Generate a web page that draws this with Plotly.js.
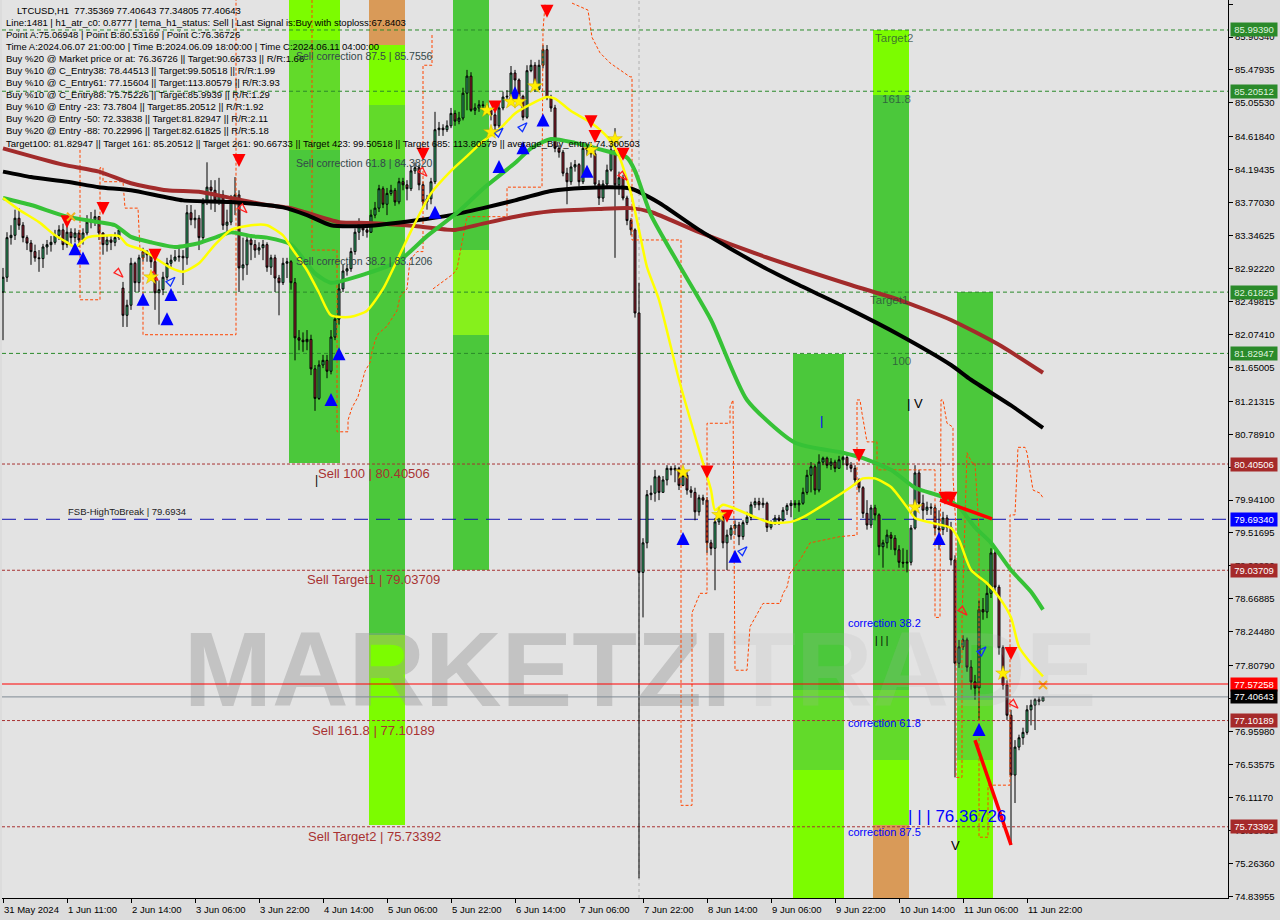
<!DOCTYPE html>
<html><head><meta charset="utf-8">
<script src="https://cdn.plot.ly/plotly-3.0.1.min.js"></script>
<style>html,body{margin:0;padding:0;background:#dcdcdc;}#chart{width:1280px;height:920px;}</style>
</head><body><div id="chart"></div>
<script>
// ---------------- DATA ----------------
const headerOHLC = [77.35369, 77.40643, 77.34805, 77.40643];
const timeLabels = ["31 May 2024","1 Jun 11:00","2 Jun 14:00","3 Jun 06:00","3 Jun 22:00","4 Jun 14:00","5 Jun 06:00","5 Jun 22:00","6 Jun 14:00","7 Jun 06:00","7 Jun 22:00","8 Jun 14:00","9 Jun 06:00","9 Jun 22:00","10 Jun 14:00","11 Jun 06:00","11 Jun 22:00"];
const barsPerLabel = 16;

const open = [82.62,82.81,83.32,83.35,83.57,83.48,83.32,83.25,83.14,83.06,83.05,83.20,83.23,83.26,83.35,83.42,83.23,83.39,83.32,83.38,
83.29,83.38,83.52,83.55,83.59,83.38,83.23,83.29,83.26,83.32,82.67,82.32,82.45,82.99,82.74,83.06,83.14,83.10,83.01,82.61,
82.65,82.81,82.99,83.03,83.07,83.08,83.06,83.64,83.55,83.57,83.32,83.77,83.97,83.93,83.80,83.87,83.48,83.52,83.78,83.87,
82.93,82.97,83.29,83.23,83.16,83.19,83.23,82.94,83.06,82.80,82.74,82.99,83.01,82.74,82.03,82.00,81.98,82.01,81.63,81.25,
81.68,81.74,81.60,82.04,82.27,82.66,82.89,82.92,83.14,83.39,83.51,83.42,83.39,83.61,83.70,83.95,83.75,83.89,83.93,83.78,
84.04,84.00,83.95,84.18,84.22,84.00,83.78,83.82,84.04,84.71,84.73,84.71,84.76,84.92,84.82,84.86,85.18,85.40,84.96,84.99,
85.03,85.02,84.96,84.90,84.76,84.99,85.13,85.14,85.44,85.35,85.14,84.87,85.47,85.54,85.23,85.54,85.74,85.12,84.99,84.47,
84.42,84.15,84.04,84.23,84.26,84.04,84.47,84.45,84.40,84.01,83.83,84.01,84.19,84.45,84.00,84.09,83.83,83.54,83.42,82.35,
79.01,79.39,80.01,80.03,80.24,80.04,80.20,80.35,80.33,80.35,80.13,80.26,80.07,80.04,79.79,79.97,79.94,79.39,79.32,79.66,
79.72,79.39,79.49,79.58,79.62,79.47,79.65,79.72,79.88,79.92,79.88,79.90,79.59,79.65,79.71,79.68,79.81,79.87,79.90,79.88,
79.90,80.04,80.26,80.37,80.07,80.43,80.48,80.39,80.43,80.35,80.46,80.49,80.39,80.35,80.20,80.10,79.77,79.62,79.84,79.75,
79.34,79.39,79.49,79.45,79.30,79.14,79.13,79.14,79.58,80.29,79.90,79.81,79.85,79.84,79.58,79.56,79.71,79.59,79.17,77.84,
78.05,78.14,77.79,77.60,77.52,78.53,78.50,78.74,79.26,78.82,78.04,77.56,77.17,76.40,76.76,76.88,76.95,77.24,77.30,77.37,
77.35369];
const high = [82.93,83.39,83.48,83.68,83.70,83.52,83.35,83.29,83.23,83.16,83.24,83.29,83.34,83.42,83.48,83.50,83.48,83.44,83.44,83.42,
83.44,83.61,83.65,83.68,83.60,83.39,83.35,83.34,83.39,83.44,82.75,82.52,83.06,83.01,83.10,83.19,83.16,83.14,83.06,82.77,
82.88,83.06,83.10,83.16,83.19,83.16,83.74,83.74,83.68,83.61,83.83,84.29,84.06,84.06,84.09,83.93,83.68,83.87,84.10,83.93,
83.32,83.35,83.32,83.29,83.26,83.29,83.26,83.10,83.10,82.84,83.06,83.06,83.03,82.80,82.13,82.10,82.13,82.07,81.68,81.74,
81.81,81.81,82.13,82.32,82.74,82.97,82.97,83.19,83.44,83.57,83.52,83.48,83.68,83.78,84.00,83.98,83.96,84.00,83.96,84.09,
84.09,84.06,84.24,84.29,84.26,84.04,83.87,84.09,84.94,84.81,84.78,84.83,84.99,84.96,84.94,85.25,85.48,85.45,85.05,85.09,
85.08,85.04,84.99,84.94,85.07,85.20,85.22,85.53,85.48,85.37,85.16,85.54,85.61,85.58,85.61,85.80,85.80,85.16,85.03,84.51,
84.45,84.22,84.29,84.32,84.28,84.55,84.53,84.50,84.45,84.06,84.06,84.26,84.58,84.73,84.17,84.13,83.86,83.57,83.44,82.74,
79.45,80.07,80.13,80.33,80.26,80.25,80.39,80.38,80.39,80.37,80.33,80.30,80.12,80.10,80.01,80.01,79.98,79.43,79.71,79.77,
79.74,79.56,79.62,79.68,79.66,79.68,79.79,79.92,79.97,79.97,79.97,79.92,79.68,79.75,79.75,79.85,79.90,79.94,79.94,79.94,
80.10,80.33,80.43,80.40,80.53,80.50,80.50,80.48,80.46,80.51,80.51,80.52,80.43,80.39,80.22,80.12,79.94,79.88,79.88,79.77,
79.43,79.56,79.53,79.49,79.36,79.32,79.30,79.62,80.39,80.33,80.01,79.92,79.90,79.88,79.81,79.79,79.75,79.66,79.23,78.14,
78.20,78.17,77.88,77.69,78.65,78.68,78.85,79.32,79.30,78.85,78.07,77.62,77.24,76.85,76.92,77.01,77.30,77.37,77.39,77.41,
77.40643];
const low = [82.00,82.75,83.23,83.29,83.42,83.26,83.16,82.97,83.01,82.88,82.93,83.10,83.14,83.23,83.29,83.16,83.19,83.21,83.26,83.20,
83.23,83.35,83.44,83.47,83.29,83.10,83.14,83.16,83.21,83.29,82.17,82.17,82.39,82.62,82.62,83.01,83.01,82.93,82.39,82.20,
82.58,82.77,82.93,83.01,83.01,82.71,82.97,83.48,83.44,83.16,83.29,83.74,83.68,83.65,83.74,83.42,83.39,83.48,83.61,82.62,
82.77,82.84,83.03,83.06,83.10,83.03,82.88,82.84,82.62,82.32,82.71,82.80,82.65,81.74,81.87,81.85,81.87,81.55,81.09,81.23,
81.64,81.51,81.56,82.00,82.20,82.62,82.83,82.88,83.10,83.29,83.34,83.32,83.38,83.57,83.65,83.70,83.61,83.86,83.73,83.75,
83.93,83.80,83.92,84.14,83.93,83.70,83.68,83.75,84.01,84.63,84.63,84.68,84.73,84.76,84.78,84.83,84.96,84.94,84.90,84.94,
84.96,84.91,84.83,84.64,84.73,84.96,85.09,85.11,85.16,85.09,84.83,84.85,85.45,85.20,85.22,85.50,85.09,84.94,84.42,84.35,
84.11,83.75,84.00,84.17,83.98,84.01,84.38,84.35,83.96,83.74,83.78,83.98,84.17,83.06,83.87,83.80,83.48,83.35,82.29,75.07,
78.43,79.32,79.94,79.92,79.94,80.04,80.13,80.26,80.17,80.07,80.12,80.01,79.97,79.68,79.74,79.88,79.26,79.23,78.78,79.62,
79.32,79.04,79.43,79.49,79.36,79.43,79.62,79.68,79.84,79.81,79.84,79.53,79.56,79.62,79.62,79.66,79.75,79.72,79.84,79.79,
79.88,80.01,80.04,80.01,80.04,80.39,80.35,80.33,80.30,80.35,80.39,80.33,80.30,80.13,80.04,79.71,79.56,79.58,79.68,79.23,
79.07,79.32,79.30,79.23,79.07,79.07,79.01,79.10,79.56,79.84,79.68,79.75,79.75,79.49,79.30,79.49,79.53,79.10,76.37,77.78,
78.01,77.73,77.50,77.37,77.11,78.40,78.42,78.68,78.76,77.95,77.50,77.11,75.50,76.04,76.72,76.79,76.92,77.04,76.98,77.30,
77.34805];
const close = [82.81,83.32,83.35,83.57,83.48,83.32,83.25,83.14,83.06,83.05,83.20,83.23,83.26,83.35,83.42,83.23,83.39,83.32,83.38,83.29,
83.38,83.52,83.55,83.59,83.38,83.23,83.29,83.26,83.32,83.42,82.32,82.45,82.99,82.74,83.06,83.14,83.10,83.01,82.61,82.65,
82.81,82.99,83.03,83.07,83.08,83.06,83.64,83.55,83.57,83.32,83.77,83.97,83.93,83.80,83.87,83.48,83.52,83.78,83.87,82.93,
82.97,83.29,83.23,83.16,83.19,83.23,82.94,83.06,82.80,82.74,82.99,83.01,82.74,82.03,82.00,81.98,82.01,81.63,81.25,81.68,
81.74,81.60,82.04,82.27,82.66,82.89,82.92,83.14,83.39,83.51,83.42,83.39,83.61,83.70,83.95,83.75,83.89,83.93,83.78,84.04,
84.00,83.95,84.18,84.22,84.00,83.78,83.82,84.04,84.71,84.73,84.71,84.76,84.92,84.82,84.86,85.18,85.40,84.96,84.99,85.03,
85.02,84.96,84.90,84.76,84.99,85.13,85.14,85.44,85.35,85.14,84.87,85.47,85.54,85.23,85.54,85.74,85.12,84.99,84.47,84.42,
84.15,84.04,84.23,84.26,84.04,84.47,84.45,84.40,84.01,83.83,84.01,84.19,84.45,84.00,84.09,83.83,83.54,83.42,82.35,79.01,
79.39,80.01,80.03,80.24,80.04,80.20,80.35,80.33,80.35,80.13,80.26,80.07,80.04,79.79,79.97,79.94,79.39,79.32,79.66,79.72,
79.39,79.49,79.58,79.62,79.47,79.65,79.72,79.88,79.92,79.88,79.90,79.59,79.65,79.71,79.68,79.81,79.87,79.90,79.88,79.90,
80.04,80.26,80.37,80.07,80.43,80.48,80.39,80.43,80.35,80.46,80.49,80.39,80.35,80.20,80.10,79.77,79.62,79.84,79.75,79.34,
79.39,79.49,79.45,79.30,79.14,79.13,79.14,79.58,80.29,79.90,79.81,79.85,79.84,79.58,79.56,79.71,79.59,79.17,77.84,78.05,
78.14,77.79,77.60,77.52,78.53,78.50,78.74,79.26,78.82,78.04,77.56,77.17,76.40,76.76,76.88,76.95,77.24,77.30,77.37,77.35,
77.40643];

// moving averages (bar index, price)
const maBrownIdx = [0,15,24,32,41,49,57,66,72,84,91,103,113,120,128,137,149,157,162,174,189,212,224,237,249,260];
const maBrownVal = [84.47,84.26,84.17,84.02,83.93,83.91,83.83,83.74,83.70,83.52,83.51,83.47,83.42,83.50,83.59,83.66,83.69,83.70,83.65,83.39,83.10,82.71,82.52,82.26,81.94,81.58];
const maBlackIdx = [0,7,16,24,32,45,57,70,76,82,91,103,112,120,128,137,145,157,164,174,189,199,212,224,237,242,252,260];
const maBlackVal = [84.17,84.10,84.04,83.97,83.93,83.80,83.78,83.71,83.61,83.48,83.47,83.54,83.61,83.70,83.80,83.92,83.96,83.95,83.77,83.42,82.97,82.71,82.39,82.07,81.68,81.49,81.16,80.87];
const maGreenIdx = [0,7,16,24,28,32,37,43,49,53,57,62,66,72,78,82,91,99,106,114,120,128,132,137,143,149,156,158,162,169,177,186,198,210,215,222,228,235,239,243,247,252,257,260];
const maGreenVal = [83.83,83.74,83.59,83.52,83.48,83.33,83.26,83.20,83.25,83.32,83.39,83.34,83.32,83.23,82.86,82.74,82.86,83.02,83.34,83.66,83.95,84.28,84.47,84.59,84.54,84.46,84.35,84.18,83.61,82.97,82.26,81.23,80.68,80.55,80.48,80.33,80.10,79.98,79.85,79.59,79.39,79.04,78.76,78.53];
const temaIdx = [0,4,9,13,16,18,21,23,29,31,35,38,42,45,49,53,57,62,66,70,72,76,79,82,87,91,95,99,103,107,112,116,120,124,128,132,136,138,142,147,151,154,157,159,161,164,169,174,177,178,180,184,188,192,197,200,207,212,215,218,222,226,228,232,237,239,242,246,249,252,254,257,260];
const temaVal = [83.83,83.68,83.52,83.35,83.26,83.20,83.32,83.34,83.34,83.23,83.16,83.06,82.93,82.88,82.99,83.23,83.42,83.48,83.48,83.35,83.20,82.90,82.61,82.32,82.30,82.38,82.66,83.08,83.51,83.89,84.18,84.37,84.56,84.71,84.92,85.04,85.13,85.11,84.95,84.80,84.62,84.37,83.89,83.42,82.94,82.52,81.49,80.59,80.07,79.81,79.88,79.81,79.72,79.65,79.66,79.72,79.94,80.11,80.22,80.22,80.11,79.85,79.71,79.65,79.58,79.43,79.04,78.87,78.69,78.43,78.05,77.84,77.67];

// stepped channel (dashed orange), null = break
const chanIdx = [19.25,19.25,24.25,24.25,25,25,30,30.5,33.75,34.25,35,35,58.25,58.25,null,
77.25,77.25,83.5,83.5,86.25,86.25,87.25,88.75,90.5,91.75,92.25,93,93.75,96,98.5,99.25,101,101.75,103.5,105,105,107.25,107.25,null,
107.5,112.5,113.5,115,116,126,126,134.75,135,135.5,null,
142.25,146.25,147.25,149.25,151.75,156.75,157.25,157.25,169.5,169.5,172.25,172.25,174.25,176,176,181.75,181.75,182.5,183,186,186.75,190,194.25,195,196,196.75,199.25,201.75,209.25,213.5,213.5,214.25,214.75,216,218.5,218.5,233,233,234.25,234.5,235,236,237.5,237.5,238.25,238.25,239.75,239.75,241,242.25,243,244,244,246.25,246.25,251.75,251.75,253,253.75,255.5,256,257.5,259.25,260];
const chanVal = [84.45,82.52,82.52,84.22,84.22,84.04,84.04,83.70,83.70,83.16,83.16,82.07,82.07,86.38,null,
86.38,83.16,83.16,80.82,80.82,80.97,81.13,81.27,81.60,81.71,81.85,81.99,82.08,82.18,82.38,82.56,82.66,83.03,83.14,83.14,85.54,85.54,85.93,null,
82.66,82.85,82.92,83.33,83.59,83.59,83.97,83.97,85.99,86.32,null,
86.34,86.25,85.90,85.70,85.57,85.39,85.39,83.29,83.29,76.01,76.01,78.49,78.74,78.74,80.93,80.93,81.14,81.23,77.75,77.75,78.31,78.61,78.61,78.74,78.82,79.00,79.17,79.39,79.47,79.49,81.23,81.23,81.06,80.69,80.69,80.33,80.33,78.43,78.43,81.23,81.23,80.93,80.88,80.24,79.59,76.37,76.37,78.40,80.55,80.42,80.42,79.56,75.60,75.60,76.27,76.27,79.75,79.75,80.62,80.62,80.55,80.07,80.03,79.97];

// signals
const sellIdx = [16,25,38,59,105,123,136,147,148,155,176,181,214,235.5,237,252];
const sellVal = [83.44,83.61,83.01,84.23,84.31,84.92,86.15,84.73,84.54,84.31,80.22,79.65,80.43,79.88,79.88,77.88];
const buyIdx = [18,20,35,41,42,82,84,108,124,128,130,135,146,170,183,234,244];
const buyVal = [83.26,83.14,82.61,82.36,82.67,81.32,81.91,83.73,84.32,85.27,84.56,84.92,84.26,79.53,79.30,79.53,77.07];
const starIdx = [37,121,122,127,129,133,147,153,170,179,228,250];
const starVal = [82.81,84.96,84.68,85.07,85.07,85.27,84.45,84.59,80.30,79.75,79.85,77.71];
const crossIdx = [17,260];
const crossVal = [83.59,77.56];
const sellHintIdx = [30,38.75,61,106,156,241,253.75];
const sellHintVal = [82.81,82.77,83.64,84.11,84.06,78.46,77.26];
const buyHintIdx = [43,125,131,186,245.75];
const buyHintVal = [82.81,84.73,84.80,79.34,78.05];
const zig1Idx = [234.25,247.25], zig1Val = [79.94,79.70];
const zig2Idx = [243,252], zig2Val = [76.85,75.50];

// levels
const targetLevels = [85.99390,85.20512,82.61825,81.82947];
const sellLevels = [80.40506,79.03709,77.10189,75.73392];
const fsbLevel = 79.69340;
const askLevel = 77.57258;
const bidLevel = 77.40643;
const corrLevels = [85.7556,84.3820,83.1206];
const corrNames = ["87.5","61.8","38.2"];
const buyEntries = [78.44513,77.15604,75.75226];
const buyEntryNames = ["correction 38.2","correction 61.8","correction 87.5"];

// zones (bar index ranges)
const zoneStart = [72,92,113,198,218,239];
const zoneEnd = [83.75,100,121,209.75,226,247];

const yTicks = [86.32745,85.90340,85.47935,85.05530,84.61840,84.19435,83.77030,83.34625,82.92220,82.49815,82.07410,81.65005,81.21315,80.78910,80.36505,79.94100,79.51695,79.09290,78.66885,78.24480,77.80790,77.38385,76.95980,76.53575,76.11170,75.68765,75.26360,74.83955];

const infoLines = [
 "LTCUSD,H1  " + headerOHLC.map(v=>v.toFixed(5)).join(" "),
 "Line:1481 | h1_atr_c0: 0.8777 | tema_h1_status: Sell | Last Signal is:Buy with stoploss:67.8403",
 "Point A:75.06948 | Point B:80.53169 | Point C:76.36726",
 "Time A:2024.06.07 21:00:00 | Time B:2024.06.09 18:00:00 | Time C:2024.06.11 04:00:00",
 "Buy %20 @ Market price or at: 76.36726 || Target:90.66733 || R/R:1.66",
 "Buy %10 @ C_Entry38: 78.44513 || Target:99.50518 || R/R:1.99",
 "Buy %10 @ C_Entry61: 77.15604 || Target:113.80579 || R/R:3.93",
 "Buy %10 @ C_Entry88: 75.75226 || Target:85.9939 || R/R:1.29",
 "Buy %10 @ Entry -23: 73.7804 || Target:85.20512 || R/R:1.92",
 "Buy %20 @ Entry -50: 72.33838 || Target:81.82947 || R/R:2.11",
 "Buy %20 @ Entry -88: 70.22996 || Target:82.61825 || R/R:5.18",
 "Target100: 81.82947 || Target 161: 85.20512 || Target 261: 90.66733 || Target 423: 99.50518 || Target 685: 113.80579 || average_Buy_entry: 74.300503"
];

// ---------------- STYLE / LAYOUT ----------------
const FONT = "Liberation Sans, Arial, sans-serif";
const W = 1226, H = 898, L = 2;
const px = x => (x - L) / W;
const py = y => 1 - y / H;
const idx = close.map((_, i) => i);
const Y0 = 74.817, Y1 = 86.380;

const GREEN = '#4bc83b', LIME = '#7cfc00', MID = '#62da2a', ORANGE = '#d99a58';
const zoneBands = [
 [[0,40,LIME],[40,150,MID],[150,463,GREEN]],
 [[0,45,ORANGE],[45,105,LIME],[105,160,MID],[160,635,GREEN],[635,825,LIME]],
 [[0,250,GREEN],[250,335,'#86f01c'],[335,570,GREEN]],
 [[354,690,GREEN],[690,770,MID],[770,898,LIME]],
 [[30,95,LIME],[95,690,GREEN],[690,760,MID],[760,825,LIME],[825,898,ORANGE]],
 [[292,700,GREEN],[700,760,MID],[760,898,LIME]]
];

const shapes = [];
zoneBands.forEach((bands, z) => {
  bands.forEach(b => shapes.push({type:'rect', layer:'below', xref:'x', yref:'paper',
    x0: zoneStart[z] - 0.5, x1: zoneEnd[z] + 0.5, y0: py(b[1]), y1: py(b[0]),
    fillcolor: b[2], line:{width:0}}));
});
targetLevels.forEach(v => shapes.push({type:'line', layer:'below', xref:'paper', yref:'y', x0:0, x1:1, y0:v, y1:v, line:{color:'#2a8a2a', width:1, dash:'4px,3px'}}));
sellLevels.forEach(v => shapes.push({type:'line', layer:'below', xref:'paper', yref:'y', x0:0, x1:1, y0:v, y1:v, line:{color:'#a83232', width:1, dash:'3px,2px'}}));
shapes.push({type:'line', layer:'below', xref:'paper', yref:'y', x0:0, x1:1, y0:fsbLevel, y1:fsbLevel, line:{color:'#1010b0', width:1, dash:'14px,8px'}});
shapes.push({type:'line', layer:'above', xref:'paper', yref:'y', x0:0, x1:1, y0:askLevel, y1:askLevel, line:{color:'#ff0000', width:1}});
shapes.push({type:'line', layer:'above', xref:'paper', yref:'y', x0:0, x1:1, y0:bidLevel, y1:bidLevel, line:{color:'#7f8a94', width:1}});
shapes.push({type:'line', layer:'below', xref:'x', yref:'paper', x0:159, x1:159, y0:0, y1:1, line:{color:'#b0b0b0', width:1, dash:'3px,3px'}});

const ann = [];
const txt = (x, y, text, o) => ann.push(Object.assign({xref:'paper', yref:'paper', x:px(x), y:py(y), text:text, showarrow:false, xanchor:'left', yanchor:'middle', font:{family:FONT, size:9.5, color:'#000'}}, o || {}));

infoLines.forEach((t, k) => txt(k === 0 ? 15 : 4, 10 + 12.1 * k, t));

// x-axis labels (left aligned at tick)
timeLabels.forEach((t, k) => ann.push({xref:'x', yref:'paper', x:k * barsPerLabel, y:py(909), text:t, showarrow:false, xanchor:'left', yanchor:'middle', xshift:-1, font:{family:FONT, size:9.5, color:'#000'}}));

// level texts
const sellTexts = ["Sell 100 | ", "Sell Target1 | ", "Sell 161.8 | ", "Sell Target2 | "];
const sellTextX = [318, 307, 312, 308];
sellLevels.forEach((v, k) => ann.push({xref:'paper', yref:'y', x:px(sellTextX[k]), y:v, text:sellTexts[k] + v.toFixed(5), showarrow:false, xanchor:'left', yanchor:'top', xshift:-2, font:{family:FONT, size:13, color:'#a83232'}}));
corrLevels.forEach((v, k) => ann.push({xref:'paper', yref:'y', x:px(296), y:v, text:'Sell correction ' + corrNames[k] + ' | ' + v.toFixed(4), showarrow:false, xanchor:'left', yanchor:'top', xshift:-2, font:{family:FONT, size:10.5, color:'#34484a'}}));
buyEntries.forEach((v, k) => ann.push({xref:'paper', yref:'y', x:px(848), y:v, text:buyEntryNames[k], showarrow:false, xanchor:'left', yanchor:'top', xshift:-2, yshift:1, font:{family:FONT, size:11, color:'#0000ff'}}));
const tgtNames = ["Target2", "161.8", "Target1", "100"];
const tgtX = [875, 882, 870, 892];
targetLevels.forEach((v, k) => ann.push({xref:'paper', yref:'y', x:px(tgtX[k]), y:v, text:tgtNames[k], showarrow:false, xanchor:'left', yanchor:'top', xshift:-2, font:{family:FONT, size:11.5, color:'rgba(40,70,60,0.75)'}}));
ann.push({xref:'paper', yref:'y', x:px(68), y:fsbLevel, text:'FSB-HighToBreak | ' + fsbLevel.toFixed(4), showarrow:false, xanchor:'left', yanchor:'bottom', xshift:-2, font:{family:FONT, size:9.5, color:'#222'}});
txt(906, 816, '| | | 76.36726', {font:{family:FONT, size:17, color:'#0000ff'}});
txt(873, 640, '| | |', {font:{family:FONT, size:10, color:'#000'}});
txt(905, 403, '| V', {font:{family:FONT, size:13, color:'#000'}});
txt(818, 420, '|', {font:{family:FONT, size:13, color:'#0000ff'}});
txt(949, 845, 'V', {font:{family:FONT, size:13, color:'#000'}});
txt(313, 480, '|', {font:{family:FONT, size:12, color:'#000'}});

// right axis price boxes
const boxes = [[targetLevels[0],'#2a8a2a','#dff2df'],[targetLevels[1],'#2a8a2a','#dff2df'],[targetLevels[2],'#2a8a2a','#dff2df'],[targetLevels[3],'#2a8a2a','#dff2df'],
 [sellLevels[0],'#a52a2a','#fff'],[fsbLevel,'#0000ff','#fff'],[sellLevels[1],'#a52a2a','#fff'],[askLevel,'#ff0000','#fff'],[bidLevel,'#000','#fff'],[sellLevels[2],'#a52a2a','#fff'],[sellLevels[3],'#a52a2a','#fff']];
boxes.forEach(b => ann.push({xref:'paper', yref:'y', x:1, y:b[0], xanchor:'left', yanchor:'middle', xshift:2, text:b[0].toFixed(5), showarrow:false, bgcolor:b[1], borderpad:1, width:44, height:11, align:'center', font:{family:FONT, size:9.5, color:b[2]}}));

const traces = [
  {type:'scatter', mode:'text', x:[159.25], y:[77.63], text:["<b>MARKETZI<span style='color:rgba(175,175,175,0.40)'>TRADE</span></b>"], textposition:'middle center', textfont:{family:FONT, size:106, color:'rgba(150,150,150,0.42)'}, hoverinfo:'skip', showlegend:false},
  {type:'scatter', mode:'lines', x:chanIdx, y:chanVal, line:{color:'#ff4500', width:1, dash:'3px,2px'}, connectgaps:false, hoverinfo:'skip', showlegend:false},
  {type:'candlestick', x:idx, open:open, high:high, low:low, close:close, whiskerwidth:0,
   increasing:{line:{color:'#000', width:1}, fillcolor:'#3cc47c'}, decreasing:{line:{color:'#000', width:1}, fillcolor:'#b0283a'}, hoverinfo:'skip', showlegend:false},
  {type:'scatter', mode:'lines', x:maBrownIdx, y:maBrownVal, line:{color:'#a22b2b', width:4, shape:'spline', smoothing:0.6}, hoverinfo:'skip', showlegend:false},
  {type:'scatter', mode:'lines', x:maBlackIdx, y:maBlackVal, line:{color:'#000', width:4, shape:'spline', smoothing:0.6}, hoverinfo:'skip', showlegend:false},
  {type:'scatter', mode:'lines', x:maGreenIdx, y:maGreenVal, line:{color:'#36c236', width:4, shape:'spline', smoothing:0.6}, hoverinfo:'skip', showlegend:false},
  {type:'scatter', mode:'lines', x:temaIdx, y:temaVal, line:{color:'#ffff00', width:2.5, shape:'spline', smoothing:0.6}, hoverinfo:'skip', showlegend:false},
  {type:'scatter', mode:'lines', x:zig1Idx, y:zig1Val, line:{color:'#ff0000', width:3.5}, hoverinfo:'skip', showlegend:false},
  {type:'scatter', mode:'lines', x:zig2Idx, y:zig2Val, line:{color:'#ff0000', width:3.5}, hoverinfo:'skip', showlegend:false},
  {type:'scatter', mode:'markers', x:sellHintIdx, y:sellHintVal, marker:{symbol:'arrow-open', angle:135, size:10, color:'#ff2020', line:{width:1.3, color:'#ff2020'}}, hoverinfo:'skip', showlegend:false},
  {type:'scatter', mode:'markers', x:buyHintIdx, y:buyHintVal, marker:{symbol:'arrow-open', angle:45, size:10, color:'#1030ff', line:{width:1.3, color:'#1030ff'}}, hoverinfo:'skip', showlegend:false},
  {type:'scatter', mode:'markers', x:sellIdx, y:sellVal, marker:{symbol:'arrow-down', size:13, color:'#ff0000', line:{width:0}}, hoverinfo:'skip', showlegend:false},
  {type:'scatter', mode:'markers', x:buyIdx, y:buyVal, marker:{symbol:'arrow-up', size:13, color:'#0000ff', line:{width:0}}, hoverinfo:'skip', showlegend:false},
  {type:'scatter', mode:'markers', x:starIdx, y:starVal, marker:{symbol:'star', size:11, color:'#ffee00', line:{width:0.5, color:'#d0b000'}}, hoverinfo:'skip', showlegend:false},
  {type:'scatter', mode:'markers', x:crossIdx, y:crossVal, marker:{symbol:'x-thin', size:8, color:'#f0b020', line:{width:2, color:'#f0b020'}}, hoverinfo:'skip', showlegend:false}
];

const layout = {
  width:1280, height:920, margin:{l:L, r:52, t:0, b:22},
  paper_bgcolor:'#dcdcdc', plot_bgcolor:'#e3e3e3', showlegend:false,
  font:{family:FONT, size:9.5, color:'#000'},
  xaxis:{range:[-0.25, 306.25], showgrid:false, zeroline:false, showline:true, linecolor:'#000', linewidth:1,
    ticks:'outside', ticklen:4, tickcolor:'#000', tickvals:timeLabels.map((_, k) => k * barsPerLabel), showticklabels:false,
    rangeslider:{visible:false}, fixedrange:true},
  yaxis:{side:'right', range:[Y0, Y1], showgrid:false, zeroline:false, showline:true, linecolor:'#000', linewidth:1,
    ticks:'outside', ticklen:4, tickcolor:'#000', tickvals:yTicks, ticktext:yTicks.map(v => v.toFixed(5)),
    tickfont:{family:FONT, size:9.5, color:'#000'}, fixedrange:true},
  shapes:shapes, annotations:ann
};

Plotly.newPlot('chart', traces, layout, {staticPlot:true, displayModeBar:false});
</script>
</body></html>
